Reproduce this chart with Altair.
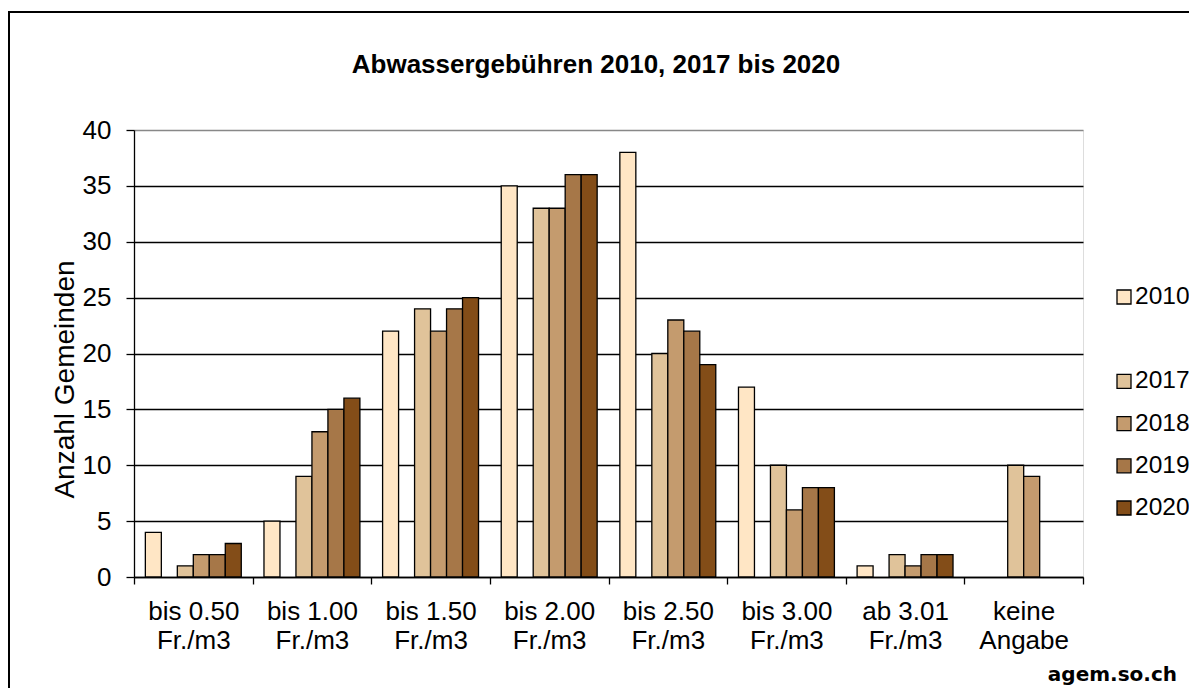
import altair as alt
import pandas as pd

categories = [
    "bis 0.50\nFr./m3", "bis 1.00\nFr./m3", "bis 1.50\nFr./m3", "bis 2.00\nFr./m3",
    "bis 2.50\nFr./m3", "bis 3.00\nFr./m3", "ab 3.01\nFr./m3", "keine\nAngabe",
]
series_order = ["2010", " ", "2017", "2018", "2019", "2020"]
colors = ["#FFE6C5", "#FFFFFF", "#E0C39A", "#C49B6E", "#A67748", "#834D18"]

v2010 = [4, 5, 22, 35, 38, 17, 1, None]
v2017 = [1, 9, 24, 33, 20, 10, 2, 10]
v2018 = [2, 13, 22, 33, 23, 6, 1, 9]
v2019 = [2, 15, 24, 36, 22, 8, 2, None]
v2020 = [3, 16, 25, 36, 19, 8, 2, None]

title_text = "Abwassergebühren 2010, 2017 bis 2020"
credit_text = "agem.so.ch"

series_values = {"2010": v2010, "2017": v2017, "2018": v2018, "2019": v2019, "2020": v2020}
rows = []
for s, vals in series_values.items():
    for c, v in zip(categories, vals):
        if v is not None:
            rows.append({"category": c, "series": s, "value": v})
df = pd.DataFrame(rows)
legend_df = pd.DataFrame({"series": [s for s in series_order if s.strip()]})

W, H = 949, 447
FONT = "Liberation Sans"

color_scale = alt.Scale(domain=series_order, range=colors)

bars = alt.Chart(df).mark_bar(stroke="black", strokeWidth=1.3).encode(
    x=alt.X(
        "category:N", sort=categories, title=None,
        scale=alt.Scale(paddingInner=0, paddingOuter=0),
        axis=alt.Axis(
            labelExpr="split(datum.label, '\\n')", labelAngle=0, labelFontSize=26,
            labelFont=FONT, labelColor="black", labelLineHeight=29, labelPadding=14,
            tickBand="extent", tickSize=7, tickColor="black", domainColor="black",
            domainWidth=1.3, tickWidth=1.3, grid=False, labelBaseline="top",
        ),
    ),
    xOffset=alt.XOffset("series:N", scale=alt.Scale(domain=series_order, paddingInner=0, paddingOuter=0.71)),
    y=alt.Y(
        "value:Q", title="Anzahl Gemeinden",
        scale=alt.Scale(domain=[0, 40], nice=False),
        axis=alt.Axis(
            values=list(range(0, 41, 5)), labelFontSize=26, labelFont=FONT, labelColor="black",
            labelPadding=15, tickSize=8, tickColor="black", domainColor="black",
            domainWidth=1.3, tickWidth=1.3,
            gridColor={"condition": {"test": "datum.value == 40", "value": "#888888"}, "value": "black"},
            gridWidth=1.3,
            titleFontSize=28, titleFont=FONT, titleFontWeight="normal", titleColor="black",
            titleX=-61, titleY=249, titleBaseline="alphabetic", titleAngle=270,
        ),
    ),
    color=alt.Color("series:N", scale=color_scale, legend=None),
)

leg_y = alt.Y("series:N", scale=alt.Scale(domain=series_order, range=[167, 378], padding=0), axis=None)
legend_sq = alt.Chart(legend_df).mark_square(size=196, stroke="black", strokeWidth=1.3, opacity=1).encode(
    x=alt.value(990), y=leg_y,
    color=alt.Color("series:N", scale=color_scale, legend=None),
)
legend_txt = alt.Chart(legend_df).mark_text(
    align="left", baseline="middle", fontSize=24.5, font=FONT, color="black"
).encode(x=alt.value(1001), y=leg_y, text="series:N")

one = pd.DataFrame({"k": [0]})
frame = alt.Chart(one).mark_rect(fill="transparent", stroke="black", strokeWidth=2).encode(
    x=alt.value(-125), x2=alt.value(1075), y=alt.value(-118), y2=alt.value(575)
)
title = alt.Chart(one).mark_text(
    align="center", baseline="alphabetic", fontSize=26, font=FONT, fontWeight="bold", color="black"
).encode(x=alt.value(462), y=alt.value(-57), text=alt.value(title_text))
credit = alt.Chart(one).mark_text(
    align="right", baseline="alphabetic", fontSize=20, font="DejaVu Sans", fontWeight="bold", color="black"
).encode(x=alt.value(1043), y=alt.value(551), text=alt.value(credit_text))

chart = alt.layer(bars, legend_sq, legend_txt, frame, title, credit).resolve_scale(
    y="independent"
).properties(
    width=W, height=H,
    autosize=alt.AutoSizeParams(type="none"),
    padding={"left": 126, "top": 122, "right": 106, "bottom": 130},
).configure_view(stroke="#888888", strokeWidth=1.5).configure(background="white")

chart.save("out.html", embed_options={"renderer": "svg", "actions": False})
